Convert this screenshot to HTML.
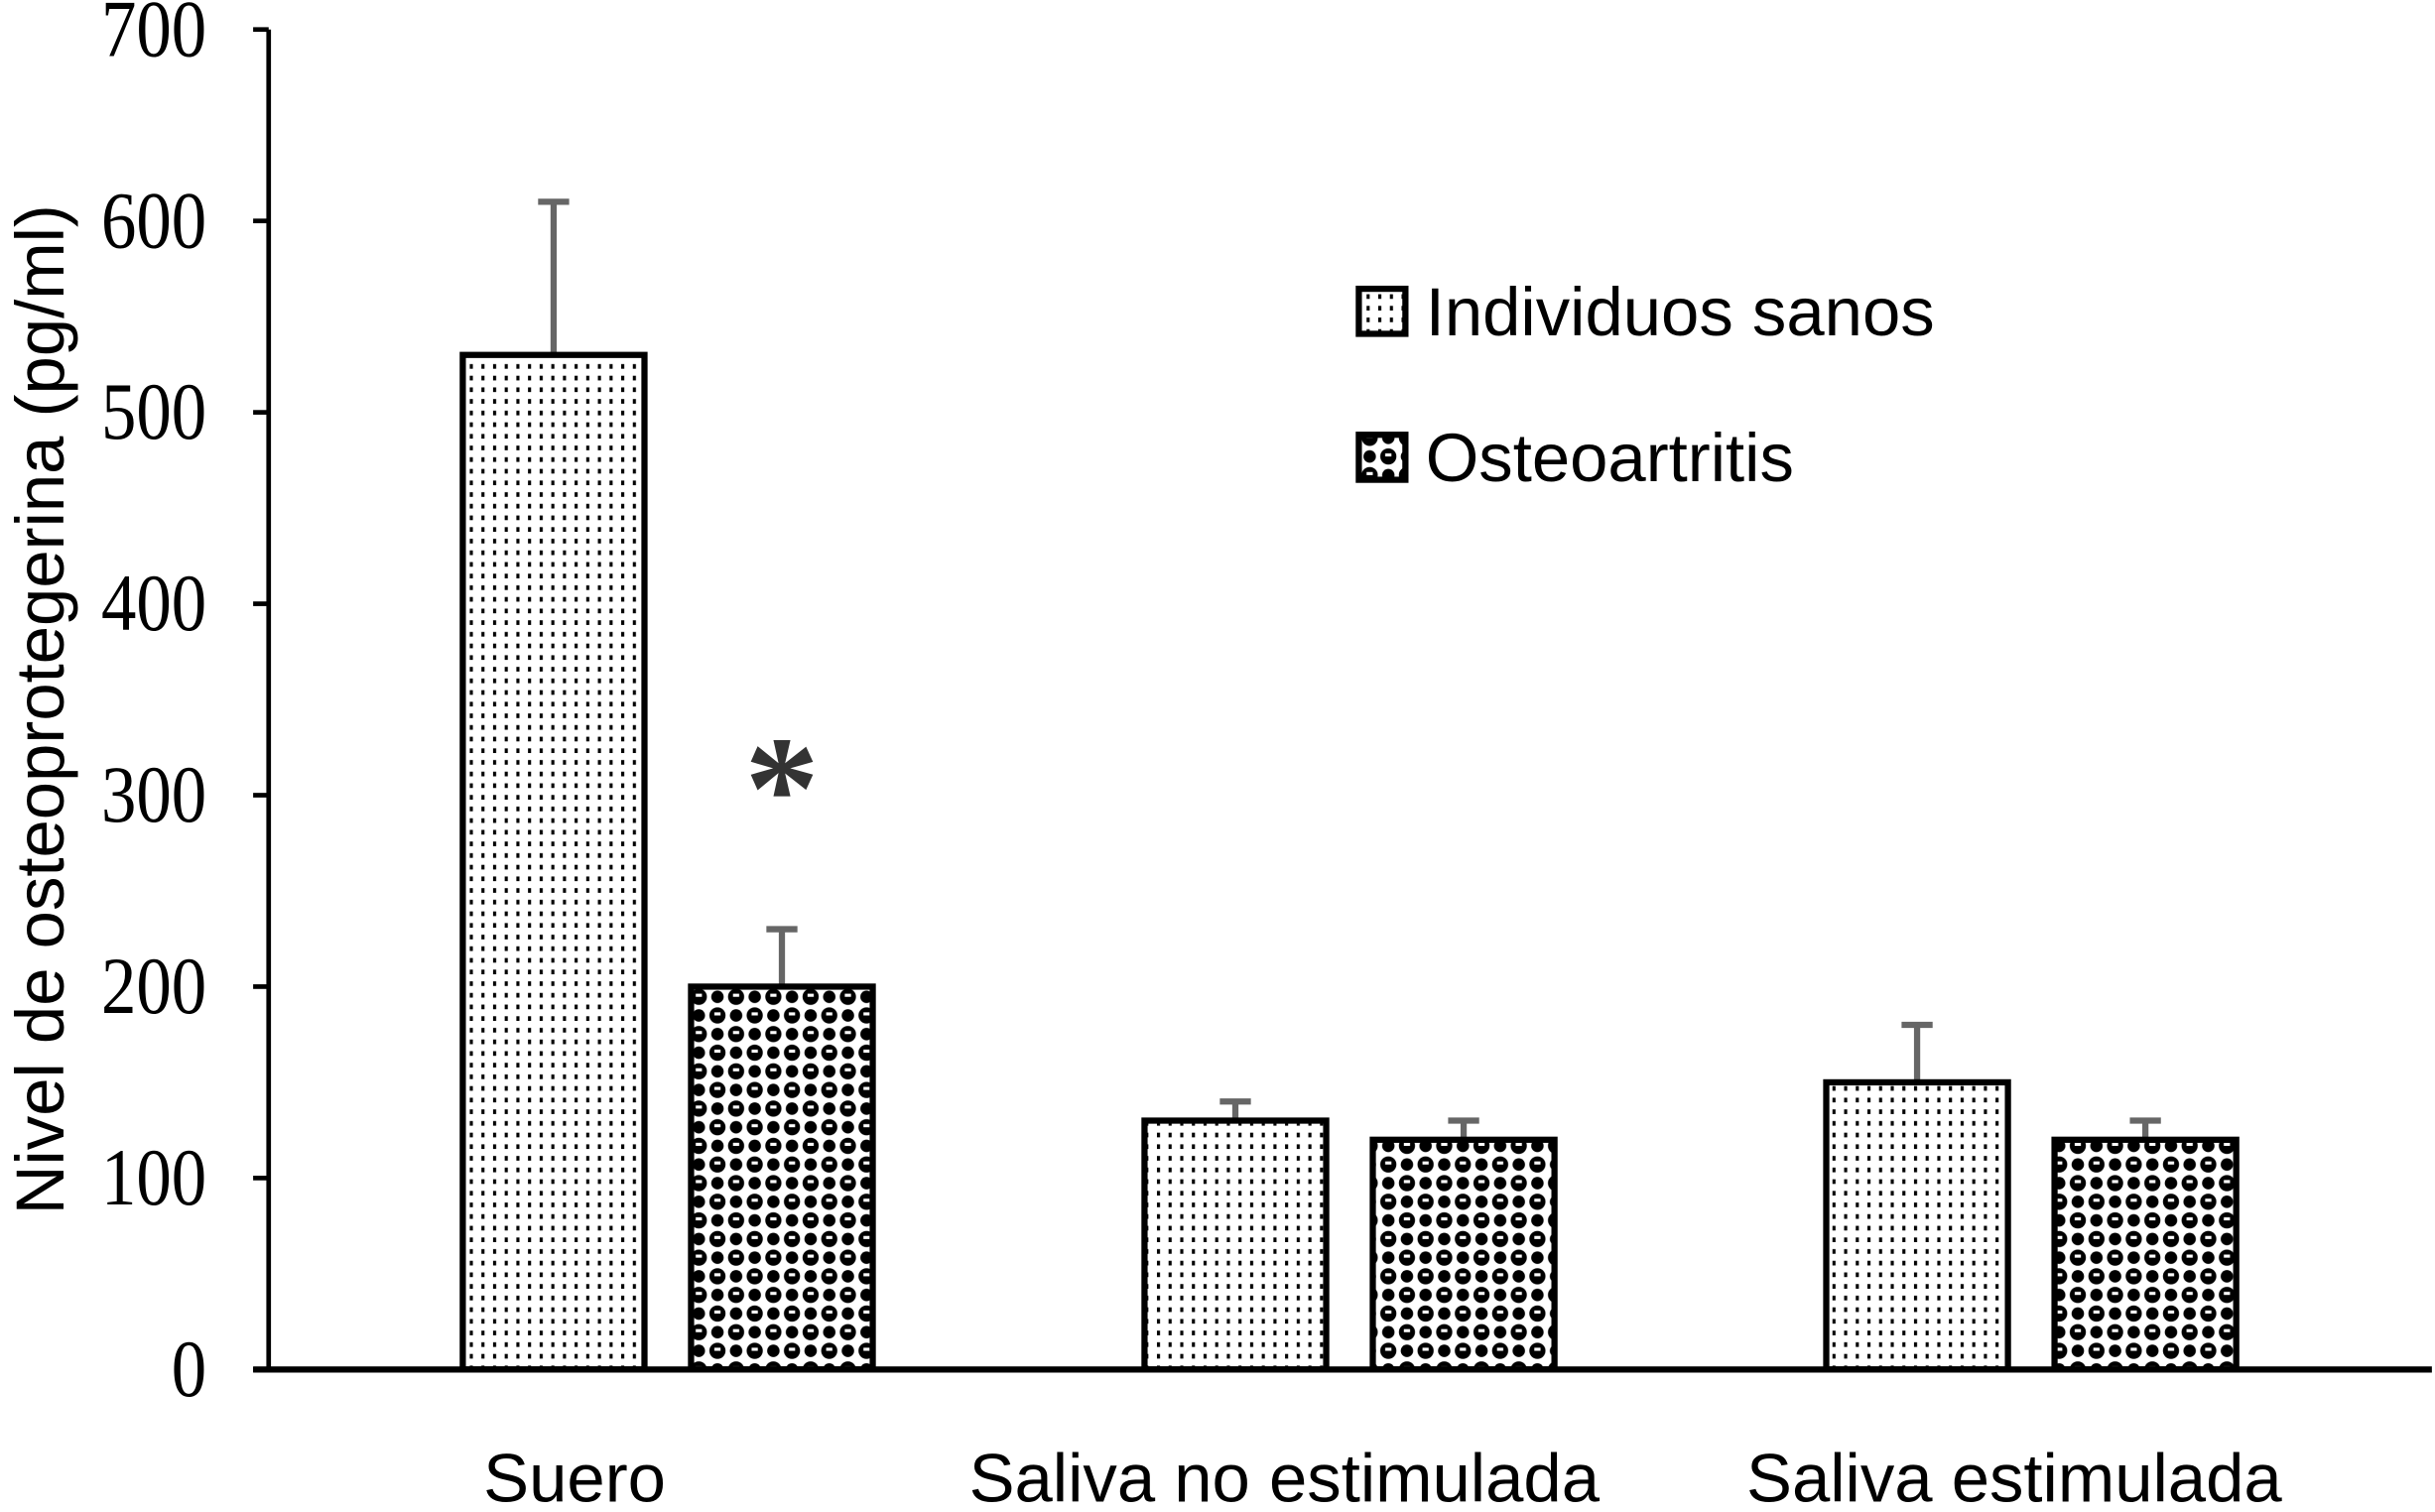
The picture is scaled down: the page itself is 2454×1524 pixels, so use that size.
<!DOCTYPE html>
<html><head><meta charset="utf-8"><style>
html,body{margin:0;padding:0;background:#fff;}
svg{display:block;}
</style></head><body>
<svg id="chart" width="2454" height="1524" viewBox="0 0 1568 973.8" preserveAspectRatio="none" xmlns="http://www.w3.org/2000/svg">
<defs>
<pattern id="dots" patternUnits="userSpaceOnUse" width="7.5" height="7.5">
<rect width="7.5" height="7.5" fill="#fff"/><rect x="2.5" y="2" width="2" height="3" fill="#000"/>
</pattern>
<pattern id="checks" patternUnits="userSpaceOnUse" width="24" height="24">
<rect width="24" height="24" fill="#fff"/>
<circle cx="6" cy="6" r="5.2" fill="#000"/><circle cx="18" cy="18" r="5.2" fill="#000"/>
<circle cx="18" cy="6" r="4" fill="#000"/><circle cx="6" cy="18" r="4" fill="#000"/>
<rect x="4" y="4" width="4" height="2" fill="#fff"/><rect x="16" y="16" width="4" height="2" fill="#fff"/>
</pattern>
</defs>
<g id="plot"></g>
</svg>
<script>
const categories = ["Suero", "Saliva no estimulada", "Saliva estimulada"];
const sanos = [530, 130, 150];
const sanosErr = [610, 140, 180];
const osteo = [200, 120, 120];
const osteoErr = [230, 130, 130];
const yTicks = [0, 100, 200, 300, 400, 500, 600, 700];
const seriesNames = ["Individuos sanos", "Osteoartritis"];

const NS = "http://www.w3.org/2000/svg";
const g = document.getElementById('plot');
const X0 = 173, Y0 = 882, YT = 19, YMAX = 700;
function y(v){ return Y0 - (v / YMAX) * (Y0 - YT); }
const groupCenters = [430, 869, 1308];
function xBar(i, s){ return groupCenters[i] + (s === 0 ? -132 : 15); }
const BW = 117;
function mk(tag, attrs){ const e = document.createElementNS(NS, tag); for (const k in attrs) e.setAttribute(k, attrs[k]); g.appendChild(e); return e; }

let ax = mk('line', {x1: X0, y1: YT, x2: X0, y2: Y0, stroke: '#000', 'stroke-width': 3});


yTicks.forEach(t => {
  const tk = mk('line', {x1: X0 - 10, y1: y(t), x2: X0, y2: y(t), stroke: '#000', 'stroke-width': 3});
  
  
  const tl = mk('text', {x: 133, y: y(t) + 17, 'text-anchor': 'end', 'font-family': '"Liberation Serif", serif', 'font-size': 52, transform: `translate(133,0) scale(0.87,1) translate(-133,0)`});
  tl.textContent = t;
  
  
});

[sanos, osteo].forEach((ser, s) => {
  const errs = s === 0 ? sanosErr : osteoErr;
  ser.forEach((v, i) => {
    const x = xBar(i, s);
    const e = mk('line', {x1: x + BW/2, y1: y(errs[i]), x2: x + BW/2, y2: y(v), stroke: '#666', 'stroke-width': 4});
    
    
    const c = mk('line', {x1: x + BW/2 - 10, y1: y(errs[i]), x2: x + BW/2 + 10, y2: y(errs[i]), stroke: '#666', 'stroke-width': 4});
    
    
    const r = mk('rect', {x: x, y: y(v), width: BW, height: Y0 - y(v), fill: s === 0 ? 'url(#dots)' : 'url(#checks)', stroke: '#000', 'stroke-width': 4});
    
    
  });
});

let xa = mk('line', {x1: 163, y1: Y0, x2: 1566, y2: Y0, stroke: '#000', 'stroke-width': 4});



categories.forEach((c, i) => {
  const cx = [370, 827, 1297][i];
  const t = mk('text', {x: cx, y: 967, 'text-anchor': 'middle', 'font-family': '"Liberation Sans", sans-serif', 'font-size': 44});
  t.textContent = c;
  
  
});

const ast = mk('text', {x: xBar(0,1) + BW/2, y: 540, 'text-anchor': 'middle', 'font-family': '"Liberation Serif", serif', 'font-size': 96, 'font-weight': 'bold', fill: '#333'});
ast.textContent = '*';



const yt = mk('text', {x: 0, y: 0, 'text-anchor': 'middle', 'font-family': '"Liberation Sans", sans-serif', 'font-size': 44, transform: 'translate(41,457) rotate(-90)'});
yt.textContent = 'Nivel de osteoprotegerina (pg/ml)';



seriesNames.forEach((n, s) => {
  const ly = 186 + s * 94;
  const b = mk('rect', {x: 875, y: ly, width: 30, height: 29, fill: s === 0 ? 'url(#dots)' : 'url(#checks)', stroke: '#000', 'stroke-width': 4});
  
  
  const t = mk('text', {x: 918, y: ly + 30, 'font-family': '"Liberation Sans", sans-serif', 'font-size': 44});
  t.textContent = n;
  
  
});
</script>
</body></html>
